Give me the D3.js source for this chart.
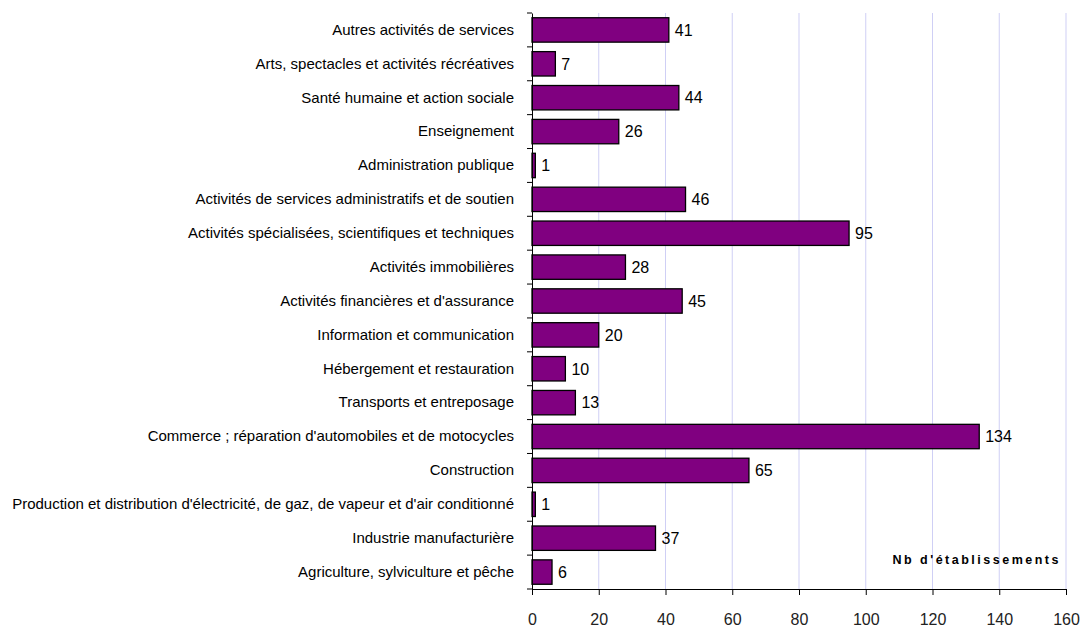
<!DOCTYPE html>
<html>
<head>
<meta charset="utf-8">
<script src="https://cdn.jsdelivr.net/npm/d3@7"></script>
<style>
  body { margin: 0; background: #fff; }
  text { font-family: "Liberation Sans", Arial, sans-serif; }
</style>
</head>
<body>
<div id="main"></div>
<script>
'use strict';

// categories, top to bottom
var categories = [
  "Autres activités de services",
  "Arts, spectacles et activités récréatives",
  "Santé humaine et action sociale",
  "Enseignement",
  "Administration publique",
  "Activités de services administratifs et de soutien",
  "Activités spécialisées, scientifiques et techniques",
  "Activités immobilières",
  "Activités financières et d'assurance",
  "Information et communication",
  "Hébergement et restauration",
  "Transports et entreposage",
  "Commerce ; réparation d'automobiles et de motocycles",
  "Construction",
  "Production et distribution d'électricité, de gaz, de vapeur et d'air conditionné",
  "Industrie manufacturière",
  "Agriculture, sylviculture et pêche"
];
var counts = [41, 7, 44, 26, 1, 46, 95, 28, 45, 20, 10, 13, 134, 65, 1, 37, 6];
var xTicks = [0, 20, 40, 60, 80, 100, 120, 140, 160];
var axisTitle = "Nb d'établissements";

var width = 1082, height = 630;
var M = { left: 532, right: 1066, top: 13, bottom: 589 };

var svg = d3.select('#main').append('svg')
  .attr('width', width).attr('height', height);

var x = d3.scaleLinear().domain([0, 160]).range([M.left, M.right]);
var y = d3.scaleBand().domain(categories).range([M.top, M.bottom])
  .paddingInner(0.28).paddingOuter(0.14);

// vertical grid
svg.append('g').selectAll('line')
  .data(xTicks.slice(1)).enter()
  .append('line')
  .attr('x1', function(d) { return x(d); })
  .attr('x2', function(d) { return x(d); })
  .attr('y1', M.top).attr('y2', M.bottom)
  .attr('stroke', '#cfcff5').attr('stroke-width', 1);

// bars
svg.append('g').selectAll('rect')
  .data(counts).enter()
  .append('rect')
  .attr('x', x(0))
  .attr('y', function(d, i) { return y(categories[i]); })
  .attr('width', function(d) { return x(d) - x(0); })
  .attr('height', y.bandwidth())
  .attr('fill', '#800080')
  .attr('stroke', '#000')
  .attr('stroke-width', 1.3);

// value labels
svg.append('g').selectAll('text')
  .data(counts).enter()
  .append('text')
  .attr('x', function(d) { return x(d) + 6; })
  .attr('y', function(d, i) { return y(categories[i]) + y.bandwidth() / 2; })
  .attr('dy', '0.36em')
  .attr('font-size', 16)
  .attr('fill', '#000')
  .text(function(d) { return d; });

// y axis
var yAxis = d3.axisLeft(y).tickSize(0).tickPadding(18);
var gy = svg.append('g')
  .attr('transform', 'translate(' + M.left + ',0)')
  .call(yAxis);
gy.select('.domain').attr('stroke', '#000');
gy.selectAll('text')
  .attr('font-size', 15)
  .attr('fill', '#000');
gy.selectAll('.sep')
  .data(d3.range(categories.length + 1)).enter()
  .append('line')
  .attr('class', 'sep')
  .attr('x1', -5).attr('x2', 0)
  .attr('y1', function(i) { return M.top + i * y.step(); })
  .attr('y2', function(i) { return M.top + i * y.step(); })
  .attr('stroke', '#000');

// x axis
var xAxis = d3.axisBottom(x).tickValues(xTicks).tickSize(6).tickPadding(19);
var gx = svg.append('g')
  .attr('transform', 'translate(0,' + M.bottom + ')')
  .call(xAxis);
gx.select('.domain').attr('stroke', '#000');
gx.selectAll('.tick line').attr('stroke', '#000');
gx.selectAll('text')
  .attr('font-size', 16)
  .attr('fill', '#222');

// axis title
svg.append('text')
  .attr('x', 1061)
  .attr('y', 564)
  .attr('text-anchor', 'end')
  .attr('font-size', 12.5)
  .attr('font-weight', 'bold')
  .attr('letter-spacing', '2.5px')
  .text(axisTitle);
</script>
</body>
</html>
